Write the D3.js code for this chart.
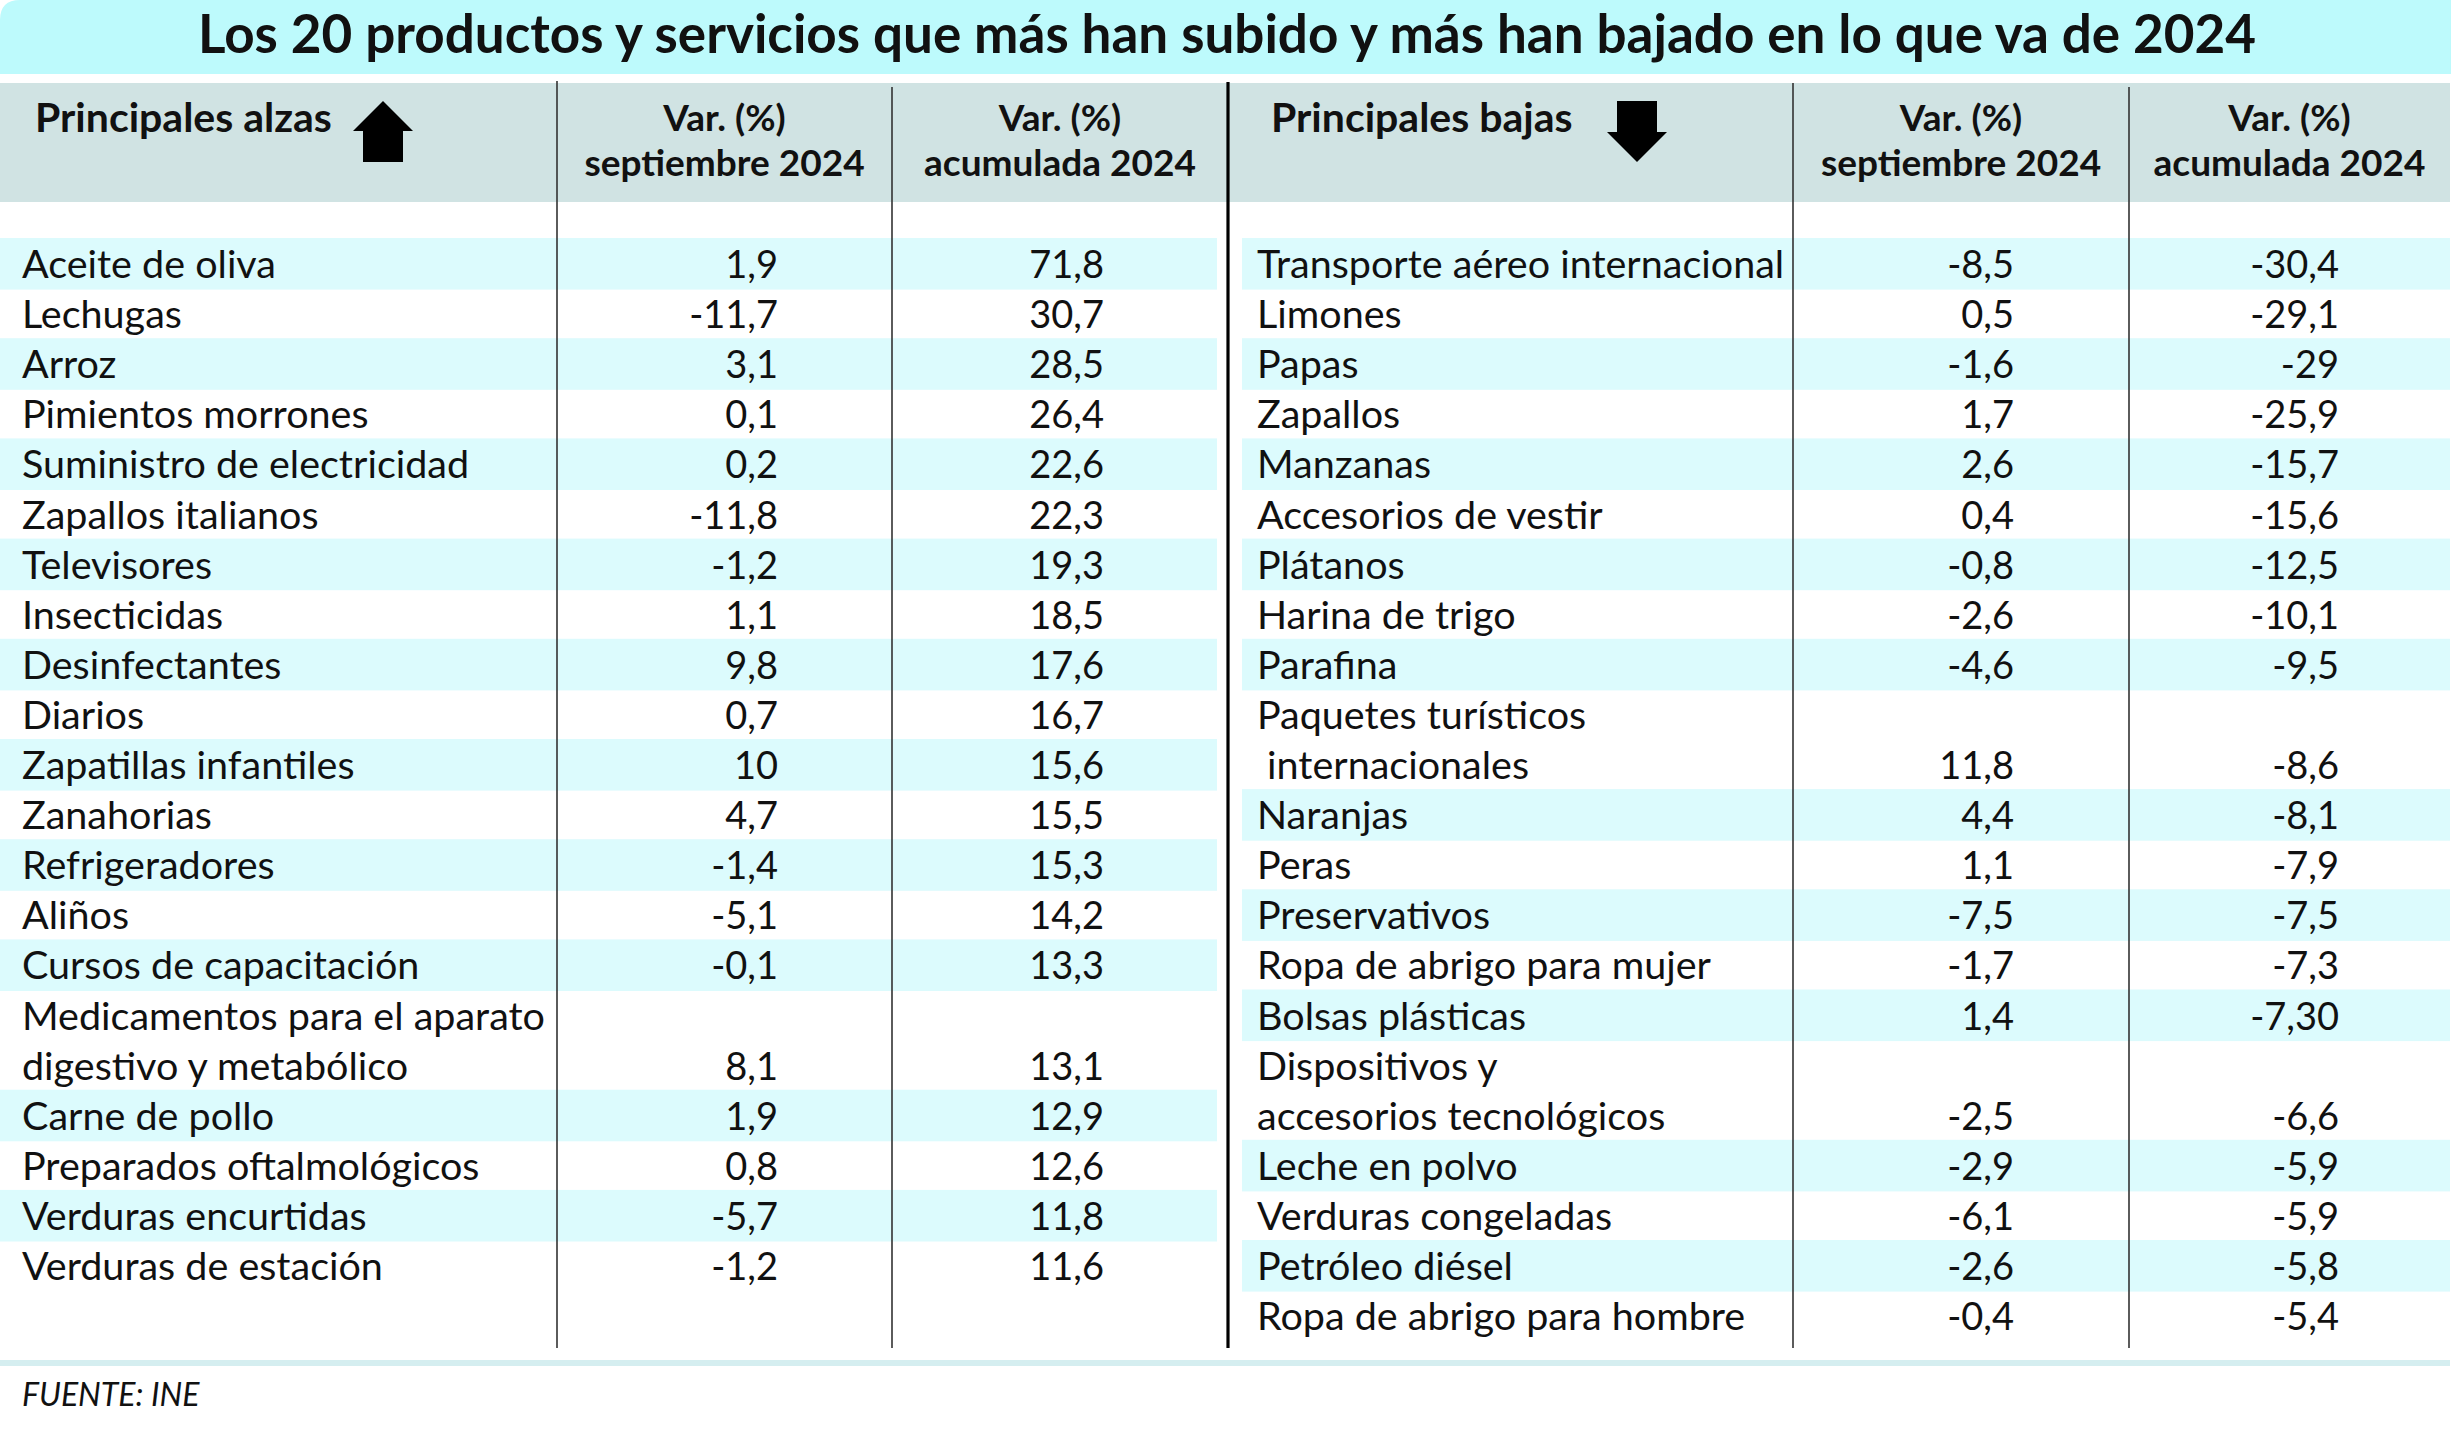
<!DOCTYPE html>
<html lang="es">
<head>
<meta charset="UTF-8" />
<title>Alzas y bajas 2024</title>
<script src="https://cdn.jsdelivr.net/npm/d3@7"></script>
<style>
  body { margin: 0; background: #fff; }
  svg text { font-family: Lato, "Noto Sans", sans-serif; fill: #111; }
</style>
</head>
<body>
<script>
// data, as printed in the table ("\n" = second line of a long label)
var alzasNames = ["Aceite de oliva", "Lechugas", "Arroz", "Pimientos morrones", "Suministro de electricidad",
  "Zapallos italianos", "Televisores", "Insecticidas", "Desinfectantes", "Diarios", "Zapatillas infantiles",
  "Zanahorias", "Refrigeradores", "Aliños", "Cursos de capacitación",
  "Medicamentos para el aparato\ndigestivo y metabólico", "Carne de pollo", "Preparados oftalmológicos",
  "Verduras encurtidas", "Verduras de estación"];
var alzasSep = ["1,9", "-11,7", "3,1", "0,1", "0,2", "-11,8", "-1,2", "1,1", "9,8", "0,7", "10", "4,7",
  "-1,4", "-5,1", "-0,1", "8,1", "1,9", "0,8", "-5,7", "-1,2"];
var alzasAcum = ["71,8", "30,7", "28,5", "26,4", "22,6", "22,3", "19,3", "18,5", "17,6", "16,7", "15,6",
  "15,5", "15,3", "14,2", "13,3", "13,1", "12,9", "12,6", "11,8", "11,6"];

var bajasNames = ["Transporte aéreo internacional", "Limones", "Papas", "Zapallos", "Manzanas",
  "Accesorios de vestir", "Plátanos", "Harina de trigo", "Parafina", "Paquetes turísticos\n internacionales",
  "Naranjas", "Peras", "Preservativos", "Ropa de abrigo para mujer", "Bolsas plásticas",
  "Dispositivos y\naccesorios tecnológicos", "Leche en polvo", "Verduras congeladas", "Petróleo diésel",
  "Ropa de abrigo para hombre"];
var bajasSep = ["-8,5", "0,5", "-1,6", "1,7", "2,6", "0,4", "-0,8", "-2,6", "-4,6", "11,8", "4,4", "1,1",
  "-7,5", "-1,7", "1,4", "-2,5", "-2,9", "-6,1", "-2,6", "-0,4"];
var bajasAcum = ["-30,4", "-29,1", "-29", "-25,9", "-15,7", "-15,6", "-12,5", "-10,1", "-9,5", "-8,6", "-8,1",
  "-7,9", "-7,5", "-7,3", "-7,30", "-6,6", "-5,9", "-5,9", "-5,8", "-5,4"];

var title = "Los 20 productos y servicios que más han subido y más han bajado en lo que va de 2024";
var colHead1 = ["Var. (%)", "septiembre 2024"];
var colHead2 = ["Var. (%)", "acumulada 2024"];
var source = "FUENTE: INE";

var width = 2458, height = 1432;

var svg = d3.select("body").append("svg")
  .attr("width", width)
  .attr("height", height);

// one "line" of text is 50.1px
var lineY = d3.scaleLinear().domain([0, 22]).range([238, 238 + 22 * 50.1]);

function layout(names) {
  var line = 0;
  return names.map(function(n, i) {
    var parts = n.split("\n");
    var o = { i: i, parts: parts, start: line, n: parts.length };
    line += parts.length;
    return o;
  });
}

var sides = [
  { rows: layout(alzasNames), sep: alzasSep, acum: alzasAcum, x0: 0, x1: 1217, nameX: 22,
    col1: 557, col2: 892, end: 1228, num1: 778, num2: 1104, label: "Principales alzas", labelX: 35, up: true, arrowX: 383 },
  { rows: layout(bajasNames), sep: bajasSep, acum: bajasAcum, x0: 1242, x1: 2450, nameX: 1257,
    col1: 1793, col2: 2129, end: 2450, num1: 2014, num2: 2339, label: "Principales bajas", labelX: 1271, up: false, arrowX: 1637 }
];

// title band, rounded top-left corner
svg.append("path")
  .attr("d", "M0,74 V20 Q0,0 20,0 H2451 V74 Z")
  .attr("fill", "#bdfafc");
svg.append("text")
  .attr("x", 1227).attr("y", 53)
  .attr("text-anchor", "middle")
  .attr("font-size", 53).attr("font-weight", 700)
  .text(title);

// header band
svg.append("rect").attr("x", 0).attr("y", 83).attr("width", 2450).attr("height", 119).attr("fill", "#d0e3e3");

sides.forEach(function(s) {
  // stripes
  svg.append("g").selectAll("rect")
    .data(s.rows.filter(function(r) { return r.i % 2 === 0; }))
    .enter().append("rect")
    .attr("x", s.x0)
    .attr("width", s.x1 - s.x0)
    .attr("y", function(r) { return lineY(r.start); })
    .attr("height", function(r) { return lineY(r.start + r.n) - lineY(r.start) + 1.5; })
    .attr("fill", "#dcfbfd");

  // header
  svg.append("text").attr("x", s.labelX).attr("y", 132)
    .attr("font-size", 41).attr("font-weight", 700).text(s.label);
  var ax = s.arrowX;
  var pts = s.up
    ? [[ax, 101], [ax + 30, 131], [ax + 20, 131], [ax + 20, 162], [ax - 20, 162], [ax - 20, 131], [ax - 30, 131]]
    : [[ax, 162], [ax + 30, 132], [ax + 20, 132], [ax + 20, 101], [ax - 20, 101], [ax - 20, 132], [ax - 30, 132]];
  svg.append("path").attr("d", d3.line()(pts) + "Z").attr("fill", "#000");

  [[colHead1, (s.col1 + s.col2) / 2], [colHead2, (s.col2 + s.end) / 2]].forEach(function(h) {
    var t = svg.append("text").attr("text-anchor", "middle")
      .attr("font-size", 37).attr("font-weight", 700);
    h[0].forEach(function(line, k) {
      t.append("tspan").attr("x", h[1]).attr("y", 131 + k * 45).text(line);
    });
  });

  // names
  var g = svg.append("g").attr("font-size", 39.5);
  s.rows.forEach(function(r) {
    r.parts.forEach(function(p, k) {
      g.append("text")
        .attr("x", s.nameX)
        .attr("y", lineY(r.start + k) + 40)
        .style("white-space", "pre")
        .text(p);
    });
  });
  // values, on the last line of each item
  var v = svg.append("g").attr("font-size", 38);
  [[s.sep, s.num1], [s.acum, s.num2]].forEach(function(c) {
    v.selectAll(null)
      .data(s.rows)
      .enter().append("text")
      .attr("x", c[1])
      .attr("y", function(r) { return lineY(r.start + r.n - 1) + 40; })
      .attr("text-anchor", "end")
      .text(function(r) { return c[0][r.i]; });
  });
});

// column rules
var rules = [[557, 81, 1.6, "#333"], [892, 87, 1.6, "#333"], [1228, 82, 3.2, "#000"], [1793, 83, 1.6, "#333"], [2129, 87, 1.6, "#333"]];
svg.append("g").selectAll("line")
  .data(rules)
  .enter().append("line")
  .attr("x1", function(d) { return d[0]; }).attr("x2", function(d) { return d[0]; })
  .attr("y1", function(d) { return d[1]; }).attr("y2", 1348)
  .attr("stroke", function(d) { return d[3]; })
  .attr("stroke-width", function(d) { return d[2]; });

// bottom band and source
svg.append("rect").attr("x", 0).attr("y", 1360).attr("width", 2450).attr("height", 6).attr("fill", "#d5eef0");
svg.append("text").attr("x", 22).attr("y", 1406)
  .attr("font-size", 32).attr("font-style", "italic").text(source);
</script>
</body>
</html>
